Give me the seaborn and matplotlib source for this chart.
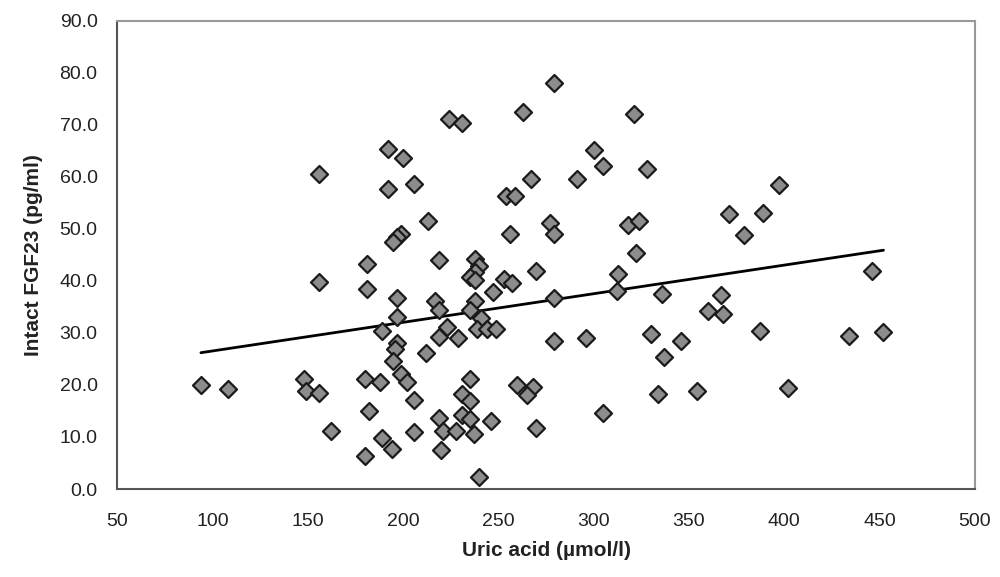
import numpy as np
import pandas as pd
import matplotlib
matplotlib.use('Agg')
import matplotlib.pyplot as plt
import seaborn as sns

# uric acid (umol/l) vs intact FGF23 (pg/ml)
uric_acid = [94, 108, 148, 149, 156, 162, 156, 156, 224, 231,
             192, 200, 192, 206, 213, 199, 197, 195, 181, 181,
             219, 238, 240, 238, 235, 238, 247, 197, 217, 219,
             238, 235, 197, 241, 189, 223, 219, 229, 239, 244,
             197, 196, 212, 195, 180, 188, 199, 202, 235, 206,
             231, 235, 182, 231, 235, 219, 246, 206, 221, 228,
             237, 189, 194, 180, 220, 240, 279, 263, 321, 300,
             305, 328, 267, 291, 254, 259, 256, 277, 279, 318,
             324, 322, 270, 253, 257, 313, 279, 312, 336, 367,
             360, 368, 249, 279, 296, 330, 346, 337, 260, 268,
             265, 334, 354, 305, 270, 397, 371, 389, 379, 446,
             387, 434, 452, 402]
fgf23 = [19.9, 19.2, 21.2, 18.8, 18.5, 11.2, 60.5, 39.7, 71.1, 70.4,
         65.4, 63.7, 57.7, 58.6, 51.6, 49.1, 48.4, 47.5, 43.2, 38.4,
         44.1, 44.3, 42.8, 41.7, 40.7, 40.1, 37.9, 36.8, 36.1, 34.5,
         36.1, 34.5, 33.1, 32.9, 30.4, 31.2, 29.2, 29.1, 30.7, 30.7,
         28.0, 27.0, 26.2, 24.6, 21.1, 20.5, 22.1, 20.5, 21.1, 17.1,
         18.2, 16.9, 15.0, 14.3, 13.4, 13.6, 13.1, 10.9, 11.2, 11.2,
         10.6, 9.9, 7.7, 6.4, 7.5, 2.4, 78.1, 72.4, 72.1, 65.1,
         62.1, 61.5, 59.6, 59.5, 56.3, 56.3, 49.0, 51.2, 49.0, 50.7,
         51.6, 45.4, 41.9, 40.4, 39.6, 41.4, 36.7, 38.0, 37.5, 37.2,
         34.3, 33.6, 30.7, 28.5, 29.1, 29.8, 28.5, 25.3, 19.9, 19.6,
         18.1, 18.2, 18.9, 14.7, 11.8, 58.5, 52.9, 53.1, 48.9, 41.9,
         30.3, 29.4, 30.1, 19.4]

# trend line end points
fit_x = [94, 452]
fit_y = [26.2, 45.9]

df = pd.DataFrame({'uric': uric_acid, 'fgf': fgf23})
fit = pd.DataFrame({'x': fit_x, 'y': fit_y})

sns.set_style('white')
plt.rcParams['font.family'] = ['Liberation Sans', 'DejaVu Sans']

fig = plt.figure(figsize=(10, 5.77), dpi=100)
ax = fig.add_axes([0.117, 0.1525, 0.858, 0.8115])

sns.lineplot(data=fit, x='x', y='y', color='black', linewidth=2, ax=ax)
sns.scatterplot(data=df, x='uric', y='fgf', marker='D', s=75,
                color='#8c8c8c', edgecolor='#1a1a1a', linewidth=1.6,
                zorder=3, ax=ax)

ax.set_xlim(50, 500)
ax.set_ylim(0, 90)
ax.set_xticks(np.arange(50, 501, 50))
ax.set_yticks(np.arange(0, 91, 10))
ax.yaxis.set_major_formatter(matplotlib.ticker.FormatStrFormatter('%.1f'))
ax.tick_params(direction='in', length=5, width=1, colors='#666666',
               labelcolor='#222222', labelsize=14)
ax.tick_params(axis='x', pad=17)
ax.tick_params(axis='y', pad=14)

for side in ['left', 'bottom']:
    ax.spines[side].set_color('#555555')
    ax.spines[side].set_linewidth(1.5)
for side in ['top', 'right']:
    ax.spines[side].set_color('#999999')
    ax.spines[side].set_linewidth(1.5)

ax.set_xlabel('Uric acid (µmol/l)', fontsize=15, fontweight='bold',
              color='#222222', labelpad=8)
ax.set_ylabel('Intact FGF23 (pg/ml)', fontsize=15, fontweight='bold',
              color='#222222', labelpad=12)

fig.savefig('out.png', dpi=100)
